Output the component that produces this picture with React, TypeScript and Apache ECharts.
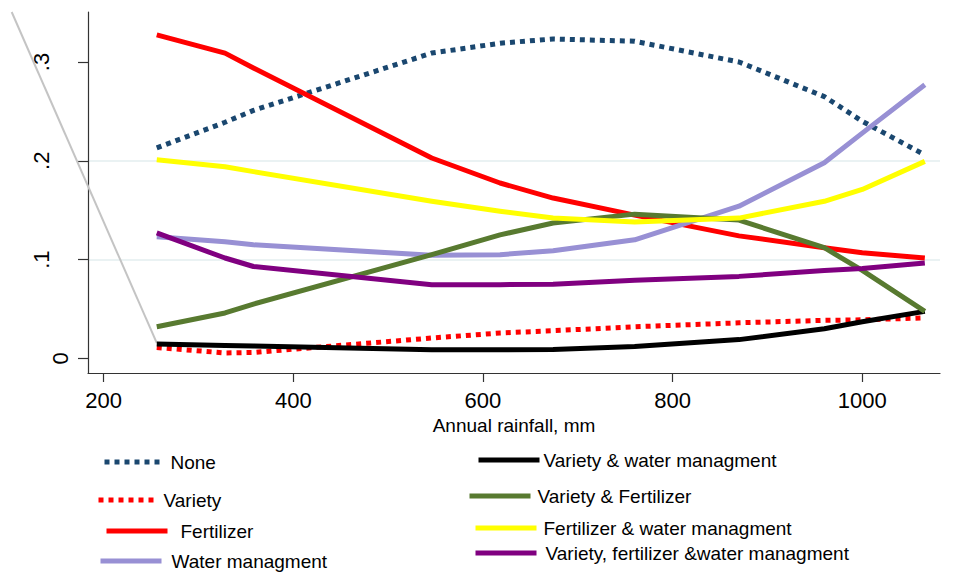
import React, { useEffect, useRef } from 'react';
import * as echarts from 'echarts';

// Annual rainfall (mm) at which the curves are evaluated
const rainfall = [256, 328, 358, 546, 618, 674, 760, 870, 960, 1000, 1066];

// Predicted probabilities for each technology package
const none = [0.213, 0.239, 0.251, 0.309, 0.319, 0.3233, 0.321, 0.3, 0.265, 0.24, 0.206];
const variety = [0.011, 0.0055, 0.006, 0.0206, 0.0257, 0.028, 0.032, 0.036, 0.0385, 0.039, 0.041];
const fertilizer = [0.3275, 0.309, 0.294, 0.2028, 0.1775, 0.1623, 0.145, 0.124, 0.112, 0.107, 0.1015];
const waterMgmt = [0.123, 0.118, 0.115, 0.1043, 0.105, 0.109, 0.12, 0.154, 0.198, 0.228, 0.277];
const varietyWater = [0.0145, 0.013, 0.0125, 0.0088, 0.0088, 0.009, 0.012, 0.019, 0.03, 0.037, 0.0476];
const varietyFert = [0.032, 0.046, 0.055, 0.105, 0.125, 0.137, 0.146, 0.14, 0.112, 0.089, 0.0476];
const fertWater = [0.201, 0.194, 0.189, 0.159, 0.149, 0.142, 0.138, 0.142, 0.159, 0.171, 0.1994];
const varFertWater = [0.127, 0.1016, 0.093, 0.0746, 0.0746, 0.075, 0.079, 0.083, 0.089, 0.091, 0.0966];

// Stray grey connector line (extends outside the plot region)
const grayX = [103, 256];
const grayY = [0.3506, 0.0156];

// Axis ticks
const xTicks = [200, 400, 600, 800, 1000];
const yTicks = [0, 0.1, 0.2, 0.3];
const xMin = 183.5;
const xMax = 1082;
const yMin = -0.0148;
const yMax = 0.3506;

const seriesDefs = [
  { name: 'None', values: none, color: '#1a476f', dash: 'dotted' },
  { name: 'Variety', values: variety, color: '#ff0000', dash: 'dotted' },
  { name: 'Fertilizer', values: fertilizer, color: '#ff0000', dash: 'solid' },
  { name: 'Water managment', values: waterMgmt, color: '#9890d4', dash: 'solid' },
  { name: 'Variety & water managment', values: varietyWater, color: '#000000', dash: 'solid' },
  { name: 'Variety & Fertilizer', values: varietyFert, color: '#587a30', dash: 'solid' },
  { name: 'Fertilizer & water managment', values: fertWater, color: '#ffff00', dash: 'solid' },
  { name: 'Variety, fertilizer &water managment', values: varFertWater, color: '#800080', dash: 'solid' },
];

// Legend placement (layout only)
const legendLayout = [
  { name: 'None', left: 102, c: 462, w: 58, gap: 8, s: 0 },
  { name: 'Variety', left: 96, c: 500, w: 57, gap: 8, s: -3 },
  { name: 'Fertilizer', left: 104, c: 531, w: 61, gap: 13, s: -2 },
  { name: 'Water managment', left: 98, c: 561, w: 61, gap: 10, s: -5 },
  { name: 'Variety & water managment', left: 476, c: 460, w: 61, gap: 4, s: 2 },
  { name: 'Variety & Fertilizer', left: 467, c: 496, w: 61, gap: 7, s: -3 },
  { name: 'Fertilizer & water managment', left: 473, c: 528, w: 61, gap: 7, s: -1 },
  { name: 'Variety, fertilizer &water managment', left: 473, c: 553, w: 61, gap: 9, s: 0 },
];

const FONT = "'Liberation Sans', Arial, Helvetica, sans-serif";
const LEG_FS = 19;

export default function App() {
  const ref = useRef<HTMLDivElement>(null);

  useEffect(() => {
    if (!ref.current) return;
    const chart = echarts.init(ref.current, null, { renderer: 'svg' });

    const legends = legendLayout.map((l) => {
      const pt = l.s > 0 ? 2 * l.s : 0;
      const pb = l.s < 0 ? -2 * l.s : 0;
      return {
        data: [l.name],
        left: l.left,
        top: l.c - (LEG_FS + pt + pb) / 2,
        orient: 'horizontal',
        padding: 0,
        itemWidth: l.w,
        itemHeight: 1,
        selectedMode: false,
        lineStyle: { width: 5 },
        textStyle: {
          fontFamily: FONT,
          fontSize: LEG_FS,
          lineHeight: LEG_FS,
          color: '#000',
          backgroundColor: 'rgba(255,255,255,0)',
          padding: [pt, 0, pb, l.gap - 5],
        },
      };
    });

    const lineSeries = seriesDefs.map((d) => ({
      type: 'line',
      name: d.name,
      data: rainfall.map((x, i) => [x, d.values[i]]),
      symbol: 'none',
      showSymbol: false,
      z: 3,
      lineStyle: { color: d.color, width: 5, type: d.dash, cap: 'butt', join: 'round' },
      itemStyle: { color: d.color },
      emphasis: { disabled: true },
    }));

    const option = {
      animation: false,
      backgroundColor: '#ffffff',
      grid: { left: 88, top: 12, width: 852, height: 361, outerBoundsMode: 'none', containLabel: false },
      legend: legends,
      xAxis: {
        type: 'value',
        min: xMin,
        max: xMax,
        name: 'Annual rainfall, mm',
        nameLocation: 'middle',
        nameGap: 39,
        nameTextStyle: { fontFamily: FONT, fontSize: 19, color: '#000' },
        axisLine: { show: true, onZero: false, lineStyle: { color: '#333', width: 1.2 } },
        axisTick: { show: true, length: 9, customValues: xTicks, lineStyle: { color: '#333', width: 1.2 } },
        axisLabel: {
          customValues: xTicks,
          margin: 16,
          fontFamily: FONT,
          fontSize: 22,
          color: '#000',
          formatter: (v: number) => String(Math.round(v)),
        },
        splitLine: { show: false },
      },
      yAxis: {
        type: 'value',
        min: yMin,
        max: yMax,
        axisLine: { show: true, onZero: false, lineStyle: { color: '#333', width: 1.2 } },
        axisTick: { show: true, length: 10, customValues: yTicks, lineStyle: { color: '#333', width: 1.2 } },
        axisLabel: {
          customValues: yTicks,
          rotate: 90,
          margin: 17,
          fontFamily: FONT,
          fontSize: 22,
          color: '#000',
          formatter: (v: number) => {
            if (Math.abs(v) < 1e-9) return '{z|0}';
            const s = String(Math.round(v * 10) / 10).replace(/^0\./, '.');
            return '{d|' + s + '}';
          },
          rich: {
            z: { fontFamily: FONT, fontSize: 22, lineHeight: 22, color: '#000' },
            d: { fontFamily: FONT, fontSize: 22, lineHeight: 60, color: '#000' },
          },
        },
        splitLine: {
          show: true,
          showMinLine: false,
          showMaxLine: false,
          lineStyle: { color: '#eaf2f3', width: 2 },
        },
      },
      series: [
        {
          type: 'custom',
          name: '_connector',
          clip: false,
          silent: true,
          z: 2,
          data: [[grayX[0], grayY[0], grayX[1], grayY[1]]],
          encode: { x: [0, 2], y: [1, 3] },
          renderItem: (_params: any, api: any) => {
            const p0 = api.coord([api.value(0), api.value(1)]);
            const p1 = api.coord([api.value(2), api.value(3)]);
            return {
              type: 'line',
              shape: { x1: p0[0], y1: p0[1], x2: p1[0], y2: p1[1] },
              style: { stroke: '#c4c4c4', lineWidth: 2 },
            };
          },
        },
        ...lineSeries,
      ],
    };

    chart.setOption(option as any);
    return () => chart.dispose();
  }, []);

  return (
    <div
      ref={ref}
      style={{ position: 'absolute', left: 0, top: 0, width: 954, height: 574, background: '#fff' }}
    />
  );
}
